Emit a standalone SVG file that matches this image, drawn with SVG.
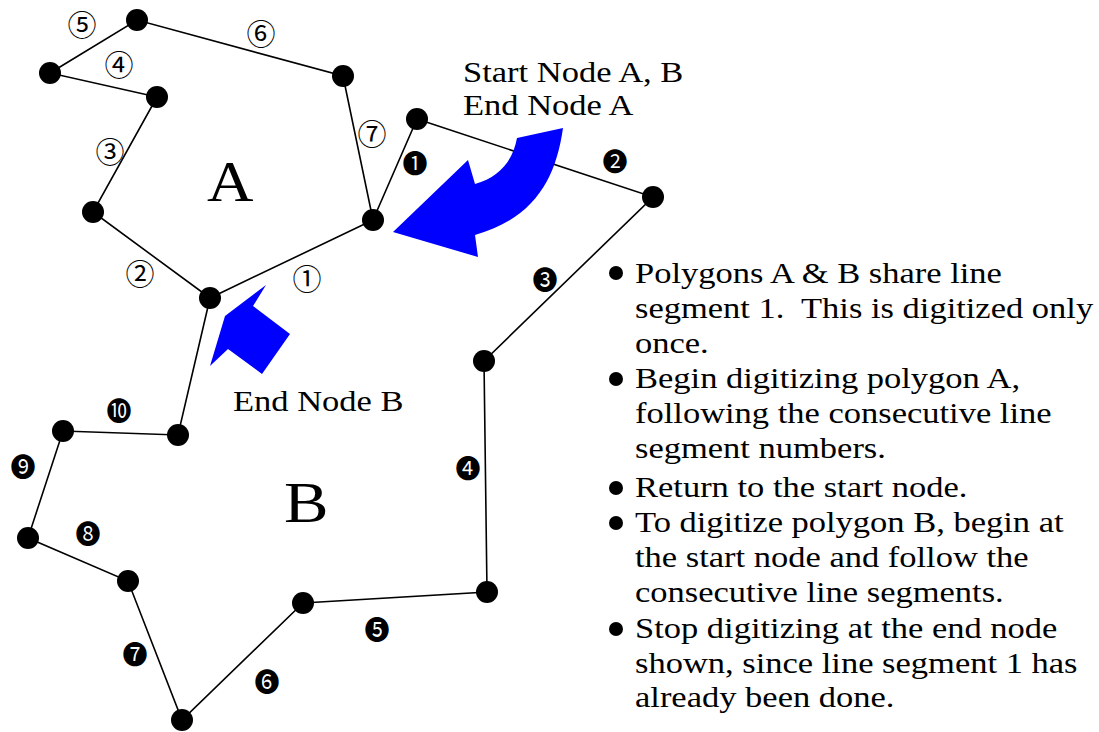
<svg xmlns="http://www.w3.org/2000/svg" width="1099" height="732" viewBox="0 0 1099 732">
<style>
.edge{stroke:#000;stroke-width:1.6;fill:none}
.node{fill:#000}
.t{font-family:"Liberation Serif","Times New Roman",serif;font-size:30px;fill:#000}
.big{font-family:"Liberation Serif","Times New Roman",serif;fill:#000}
.c{font-family:"Noto Sans CJK JP","DejaVu Sans",sans-serif;font-size:29px;fill:#000;text-anchor:middle;dominant-baseline:central}
.d{font-family:"Noto Sans CJK JP","DejaVu Sans",sans-serif;font-size:25px;fill:#000;text-anchor:middle;dominant-baseline:central}
.arrow{fill:#0000ff}
</style>
<rect width="1099" height="732" fill="#fff"/>
<g id="connectors">
<polyline class="edge" points="373,220 210,298 93,212 157,97 50,73 137,20 343,76 373,220"/>
<polyline class="edge" points="373,220 417,119 653,197 484,361 487,592 303,603 182,720 128,581 28,538 63,431 178,435 210,298"/>
</g>
<g id="arrows">
<path class="arrow" d="M563,128 C556,178 535,218 475,235 L478,257 L393,232 L468,160 L475,184 C500,177 513,160 517,138 Z"/>
<path class="arrow" d="M266,285 L253,306 L290,334 L262,374 L228,349 L210,366 L225,316 Z"/>
</g>
<g id="node-1"><circle class="node" cx="137" cy="20" r="11"/></g>
<g id="node-2"><circle class="node" cx="50" cy="73" r="11"/></g>
<g id="node-3"><circle class="node" cx="157" cy="97" r="11"/></g>
<g id="node-4"><circle class="node" cx="93" cy="212" r="11"/></g>
<g id="node-5"><circle class="node" cx="343" cy="76" r="11"/></g>
<g id="node-6"><circle class="node" cx="417" cy="119" r="11"/></g>
<g id="node-start"><circle class="node" cx="373" cy="220" r="11"/></g>
<g id="node-8"><circle class="node" cx="653" cy="197" r="11"/></g>
<g id="node-endB"><circle class="node" cx="210" cy="298" r="11"/></g>
<g id="node-10"><circle class="node" cx="484" cy="361" r="11"/></g>
<g id="node-11"><circle class="node" cx="178" cy="435" r="11"/></g>
<g id="node-12"><circle class="node" cx="63" cy="431" r="11"/></g>
<g id="node-13"><circle class="node" cx="28" cy="538" r="11"/></g>
<g id="node-14"><circle class="node" cx="128" cy="581" r="11"/></g>
<g id="node-15"><circle class="node" cx="303" cy="603" r="11"/></g>
<g id="node-16"><circle class="node" cx="487" cy="592" r="11"/></g>
<g id="node-17"><circle class="node" cx="182" cy="720" r="11"/></g>
<g id="labels-A">
<text class="c" x="307" y="277">①</text>
<text class="c" x="140" y="272">②</text>
<text class="c" x="110" y="150">③</text>
<text class="c" x="119" y="63">④</text>
<text class="c" x="82" y="23">⑤</text>
<text class="c" x="261" y="32">⑥</text>
<text class="c" x="372" y="132">⑦</text>
</g>
<g id="labels-B">
<text class="d" x="415" y="162">❶</text>
<text class="d" x="615" y="160">❷</text>
<text class="d" x="545" y="278">❸</text>
<text class="d" x="468" y="467">❹</text>
<text class="d" x="377" y="628">❺</text>
<text class="d" x="267" y="680">❻</text>
<text class="d" x="135" y="653">❼</text>
<text class="d" x="88" y="532">❽</text>
<text class="d" x="23" y="465">❾</text>
<text class="d" x="119" y="409">❿</text>
</g>
<g id="titles">
<text class="big" font-size="56" transform="translate(207,201) scale(1.15,1)">A</text>
<text class="big" font-size="58" transform="translate(284,522) scale(1.15,1)">B</text>
<text class="t" transform="translate(463,82) scale(1.15,1)">Start Node A, B</text>
<text class="t" transform="translate(463,115) scale(1.15,1)">End Node A</text>
<text class="t" transform="translate(233,411) scale(1.15,1)">End Node B</text>
</g>
<g id="notes">
<circle cx="616" cy="273" r="7"/>
<circle cx="616" cy="379" r="7"/>
<circle cx="616" cy="488" r="7"/>
<circle cx="616" cy="523" r="7"/>
<circle cx="616" cy="629" r="7"/>
<text class="t" transform="translate(635,283) scale(1.15,1)">Polygons A &amp; B share line</text>
<text class="t" transform="translate(635,318) scale(1.15,1)" xml:space="preserve">segment 1.  This is digitized only</text>
<text class="t" transform="translate(635,353) scale(1.15,1)">once.</text>
<text class="t" transform="translate(635,388) scale(1.15,1)">Begin digitizing polygon A,</text>
<text class="t" transform="translate(635,423) scale(1.15,1)">following the consecutive line</text>
<text class="t" transform="translate(635,458) scale(1.15,1)">segment numbers.</text>
<text class="t" transform="translate(635,497) scale(1.15,1)">Return to the start node.</text>
<text class="t" transform="translate(635,532) scale(1.15,1)">To digitize polygon B, begin at</text>
<text class="t" transform="translate(635,567) scale(1.15,1)">the start node and follow the</text>
<text class="t" transform="translate(635,602) scale(1.15,1)">consecutive line segments.</text>
<text class="t" transform="translate(635,638) scale(1.15,1)">Stop digitizing at the end node</text>
<text class="t" transform="translate(635,673) scale(1.15,1)">shown, since line segment 1 has</text>
<text class="t" transform="translate(635,707) scale(1.15,1)">already been done.</text>
</g>
</svg>
